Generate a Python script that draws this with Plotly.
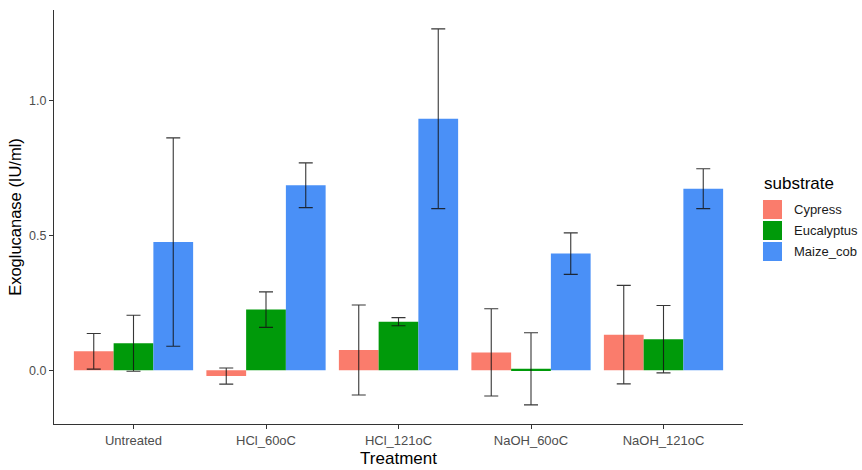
import plotly.graph_objects as go

# Exoglucanase activity by pretreatment and substrate (mean ± sd)
treatments = ["Untreated", "HCl_60oC", "HCl_121oC", "NaOH_60oC", "NaOH_121oC"]
substrates = ["Cypress", "Eucalyptus", "Maize_cob"]

cypress_mean = [0.070, -0.022, 0.075, 0.066, 0.132]
cypress_sd = [0.066, 0.030, 0.167, 0.162, 0.183]

eucalyptus_mean = [0.100, 0.225, 0.180, 0.005, 0.115]
eucalyptus_sd = [0.104, 0.066, 0.015, 0.134, 0.125]

maize_mean = [0.476, 0.687, 0.934, 0.433, 0.674]
maize_sd = [0.387, 0.083, 0.334, 0.077, 0.074]

fill_colors = ["#FA7C6C", "#009A0A", "#4A90F7"]

means = [cypress_mean, eucalyptus_mean, maize_mean]
sds = [cypress_sd, eucalyptus_sd, maize_sd]

FONT = "Liberation Sans, Arial, sans-serif"

fig = go.Figure()
for name, m, s, c in zip(substrates, means, sds, fill_colors):
    fig.add_trace(go.Bar(
        x=treatments,
        y=m,
        name=name,
        marker=dict(color=c, line=dict(width=0)),
        error_y=dict(type="data", array=s, visible=True,
                     color="rgba(20,20,20,0.85)", thickness=1.1, width=7),
        showlegend=False,
    ))

# Legend drawn as keys + labels to the right of the panel
legend_x0 = 1.029
key_w = 0.0276
key_h = 0.0459
key_step = 0.0507
fig.add_annotation(x=legend_x0 - 0.002, y=0.582, xref="paper", yref="paper",
                   text="substrate", showarrow=False, xanchor="left", yanchor="middle",
                   font=dict(family=FONT, size=17, color="#000000"))
for i, (name, c) in enumerate(zip(substrates, fill_colors)):
    ytop = 0.541 - i * key_step
    fig.add_shape(type="rect", xref="paper", yref="paper",
                  x0=legend_x0, x1=legend_x0 + key_w, y0=ytop - key_h, y1=ytop,
                  fillcolor=c, line=dict(width=0))
    fig.add_annotation(x=1.071, y=ytop - key_h / 2,
                       xref="paper", yref="paper", text=name, showarrow=False,
                       xanchor="left", yanchor="middle",
                       font=dict(family=FONT, size=13, color="#1A1A1A"))

fig.update_layout(
    width=862, height=470,
    margin=dict(l=54, r=119, t=10, b=46),
    paper_bgcolor="white", plot_bgcolor="white",
    barmode="group", bargap=0.1, bargroupgap=0.0,
    font=dict(family=FONT, color="#000000"),
)

fig.update_xaxes(
    range=[-0.6, 4.6], automargin=False,
    showline=True, linecolor="#333333", linewidth=1,
    ticks="outside", ticklen=4, tickcolor="#333333",
    tickfont=dict(size=13, color="#4D4D4D"),
    title=dict(text="Treatment", font=dict(size=17, color="#000000"), standoff=5),
    showgrid=False, zeroline=False,
)
fig.update_yaxes(
    range=[-0.2, 1.338], automargin=False,
    tickvals=[0.0, 0.5, 1.0], tickformat=".1f",
    showline=True, linecolor="#333333", linewidth=1,
    ticks="outside", ticklen=4, tickcolor="#333333",
    tickfont=dict(size=12.5, color="#4D4D4D"),
    title=dict(text="Exoglucanase (IU/ml)", font=dict(size=16.5, color="#000000"), standoff=3),
    showgrid=False, zeroline=False,
)

fig.write_html("out.html")
